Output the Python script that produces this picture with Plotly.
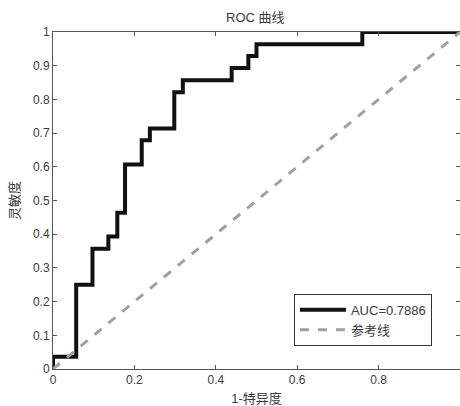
import plotly.graph_objects as go

fpr = [0, 0, 0.057, 0.097, 0.136, 0.158, 0.177, 0.218, 0.238, 0.298, 0.319, 0.439, 0.48, 0.50, 0.76, 1]
tpr = [0, 0.036, 0.25, 0.357, 0.393, 0.464, 0.607, 0.679, 0.714, 0.821, 0.857, 0.893, 0.929, 0.964, 1, 1]
ref_x = [0, 1]
ref_y = [0, 1]
ytick_vals = [0, 0.1, 0.2, 0.3, 0.4, 0.5, 0.6, 0.7, 0.8, 0.9, 1]
ytick_text = ["0", "0.1", "0.2", "0.3", "0.4", "0.5", "0.6", "0.7", "0.8", "0.9", "1"]
xtick_vals = [0, 0.2, 0.4, 0.6, 0.8, 1]
xtick_text = ["0", "0.2", "0.4", "0.6", "0.8", "1"]

font = "Liberation Sans, Arial, Noto Sans CJK SC, sans-serif"
txt = "#3a3a3a"

fig = go.Figure()
fig.add_trace(go.Scatter(x=fpr, y=tpr, mode="lines", line=dict(color="#111111", width=4, shape="hv"),
                         name="AUC=0.7886"))
fig.add_trace(go.Scatter(x=ref_x, y=ref_y, mode="lines", line=dict(color="#a0a0a0", width=3, dash="dash"),
                         name="参考线"))

axis_common = dict(showgrid=False, zeroline=False, showline=True, linecolor="#555555", linewidth=1,
                   mirror="ticks", ticks="inside", ticklen=4, tickcolor="#555555", automargin=False,
                   tickfont=dict(size=12, color=txt, family=font))
fig.update_layout(
    width=460, height=406,
    margin=dict(l=53, r=0, t=32, b=37),
    paper_bgcolor="white", plot_bgcolor="white",
    title=dict(text="ROC 曲线", x=0.555, xanchor="center", y=0.958, yanchor="middle",
               font=dict(size=13, color=txt, family=font)),
    xaxis=dict(range=[0, 1], tickvals=xtick_vals, ticktext=xtick_text,
               title=dict(text="1-特异度", standoff=7, font=dict(size=13, color=txt, family=font)),
               **axis_common),
    yaxis=dict(range=[0, 1], tickvals=ytick_vals, ticktext=ytick_text,
               title=dict(text="灵敏度", standoff=10, font=dict(size=13, color=txt, family=font)),
               **axis_common),
    legend=dict(x=0.592, xanchor="left", y=0.223, yanchor="top", bgcolor="white",
                bordercolor="#333333", borderwidth=1, font=dict(size=13, color=txt, family=font),
                tracegroupgap=2, itemwidth=46, entrywidth=146, entrywidthmode="pixels"),
    showlegend=True,
)
fig.write_html("out.html", config={"displayModeBar": False},
               post_script="document.body.style.margin='0';document.body.style.overflow='hidden';")
